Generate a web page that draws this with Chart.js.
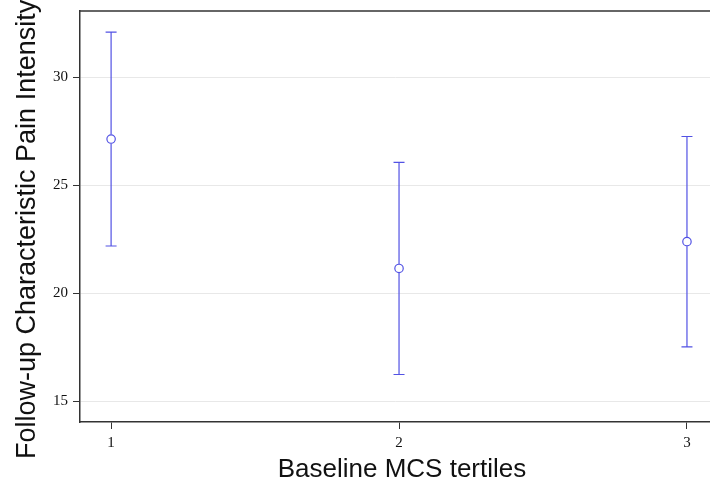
<!DOCTYPE html>
<html><head><meta charset="utf-8">
<script src="https://cdn.jsdelivr.net/npm/chart.js@4"></script>
<style>html,body{margin:0;padding:0;background:#fff}#wrap{width:710px;height:483px}</style>
</head><body><div id="wrap"><canvas id="c" width="710" height="483"></canvas></div>
<script>
const categories = [1, 2, 3];
const means = [27.13, 21.14, 22.38];
const upper = [32.08, 26.05, 27.25];
const lower = [22.18, 16.23, 17.51];
const yTicks = [15, 20, 25, 30];
const xTitle = 'Baseline MCS tertiles';
const yTitle = 'Follow-up Characteristic Pain Intensity';

const blue = 'rgb(82,82,228)';
const axisCol = '#333333';

const errorBars = {
  id: 'errorBars',
  afterDatasetsDraw(chart) {
    const {ctx, scales:{x, y}, chartArea} = chart;
    ctx.save();
    // top frame line
    ctx.strokeStyle = axisCol; ctx.lineWidth = 1.5;
    ctx.beginPath(); ctx.moveTo(chartArea.left, chartArea.top); ctx.lineTo(chart.width, chartArea.top); ctx.stroke();
    ctx.strokeStyle = blue; ctx.lineWidth = 1.2;
    categories.forEach((c, i) => {
      const px = x.getPixelForValue(c);
      const yu = y.getPixelForValue(upper[i]);
      const yl = y.getPixelForValue(lower[i]);
      const ym = y.getPixelForValue(means[i]);
      ctx.beginPath();
      ctx.moveTo(px, yu); ctx.lineTo(px, ym - 4.5);
      ctx.moveTo(px, ym + 4.5); ctx.lineTo(px, yl);
      ctx.moveTo(px - 5.5, yu); ctx.lineTo(px + 5.5, yu);
      ctx.moveTo(px - 5.5, yl); ctx.lineTo(px + 5.5, yl);
      ctx.stroke();
    });
    ctx.restore();
  },
  afterDraw(chart) {
    const ctx = chart.ctx;
    ctx.save();
    ctx.fillStyle = '#111';
    ctx.font = '26px "Liberation Sans"';
    ctx.textAlign = 'center';
    ctx.textBaseline = 'alphabetic';
    ctx.fillText(xTitle, 402, 477);
    ctx.font = '27px "Liberation Sans"';
    ctx.translate(35, 459);
    ctx.rotate(-Math.PI / 2);
    ctx.textAlign = 'left';
    ctx.fillText(yTitle, 0, 0);
    ctx.restore();
  }
};

new Chart(document.getElementById('c'), {
  type: 'scatter',
  data: {
    datasets: [{
      data: categories.map((c, i) => ({x: c, y: means[i]})),
      pointRadius: 4.2,
      pointBorderWidth: 1.2,
      pointBorderColor: blue,
      pointBackgroundColor: 'rgba(0,0,0,0)',
      showLine: false,
      clip: false
    }]
  },
  options: {
    responsive: false,
    animation: false,
    devicePixelRatio: 1,
    layout: {autoPadding: false, padding: {left: 0, right: 0, top: 11, bottom: 0}},
    plugins: {legend: {display: false}, tooltip: {enabled: false}},
    scales: {
      x: {
        type: 'linear', min: 0.892, max: 3.08,
        afterBuildTicks: s => { s.ticks = categories.map(v => ({value: v})); },
        afterFit: s => { s.height = 61; s.paddingLeft = 0; s.paddingRight = 0; },
        border: {color: axisCol, width: 1.5},
        grid: {drawOnChartArea: false, drawTicks: true, tickLength: 7, tickColor: axisCol, tickWidth: 1},
        ticks: {color: '#111', font: {family: 'Liberation Serif', size: 15}, padding: 5, maxRotation: 0},
        title: {display: false}
      },
      y: {
        type: 'linear', min: 14.03, max: 33.06,
        afterBuildTicks: s => { s.ticks = yTicks.map(v => ({value: v})); },
        afterFit: s => { s.width = 80; s.paddingTop = 0; s.paddingBottom = 0; },
        border: {color: axisCol, width: 1.5},
        grid: {color: '#e8e8e8', lineWidth: 1, drawTicks: true, tickLength: 7, tickColor: axisCol, tickWidth: 1},
        ticks: {color: '#111', font: {family: 'Liberation Serif', size: 15}, padding: 5},
        title: {display: false}
      }
    }
  },
  plugins: [errorBars]
});
</script></body></html>
